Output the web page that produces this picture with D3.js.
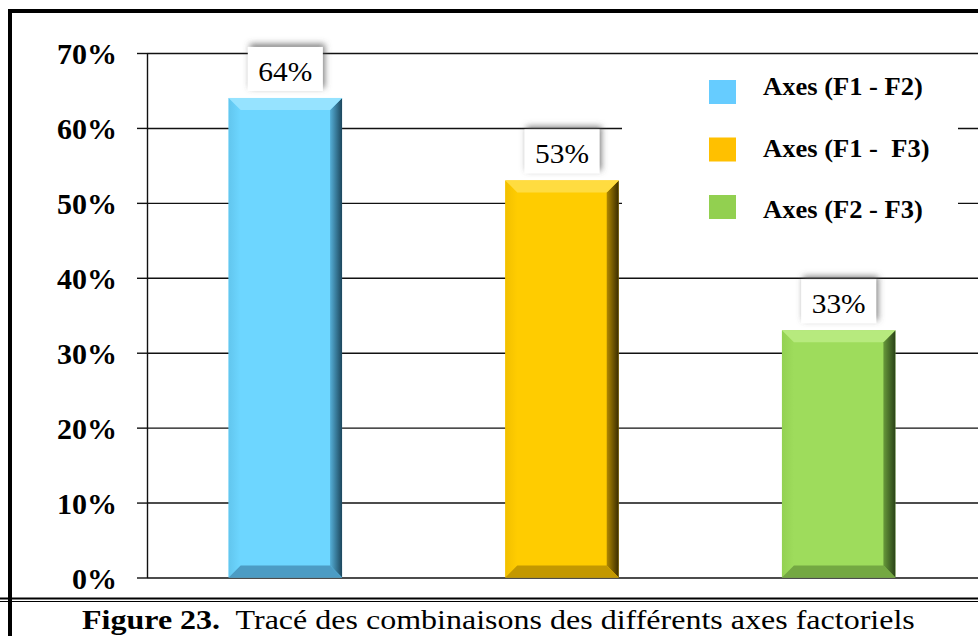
<!DOCTYPE html>
<html>
<head>
<meta charset="utf-8">
<script src="https://d3js.org/d3.v7.min.js"></script>
<style>
  html, body { margin: 0; padding: 0; background: #fff; }
  svg { display: block; font-family: "Liberation Serif", "Times New Roman", serif; }
</style>
</head>
<body>
<svg id="chart" width="978" height="636"></svg>
<script>
// data
const categories = ["Axes (F1 - F2)", "Axes (F1 -  F3)", "Axes (F2 - F3)"];
const values = [0.64, 0.53, 0.33];
const tickValues = [0, 0.1, 0.2, 0.3, 0.4, 0.5, 0.6, 0.7];
const legendColors = ["#66CCFF", "#FFC000", "#92D050"];

// bevel shades per bar: main, top, left, right (light->dark), bottom
const shades = [
  { main: "#6DD6FF", top: "#96E3FF", left: "#62C6EE", r1: "#55AFD8", r2: "#1C465C", bottom: "#4C9CC4" },
  { main: "#FFCC00", top: "#FFDC40", left: "#F2C000", r1: "#B08800", r2: "#3A2C00", bottom: "#C39800" },
  { main: "#9EDC5C", top: "#B7EA7E", left: "#93D152", r1: "#67993A", r2: "#2A4218", bottom: "#74A842" }
];

const svg = d3.select("#chart");
const W = 978;
const plotLeft = 147, plotRight = 977, plotTop = 53, plotBottom = 577.5;

const x = d3.scaleBand().domain(categories).range([plotLeft, plotRight])
  .paddingInner(0.59).paddingOuter(0.295);
const y = d3.scaleLinear().domain([0, 0.7]).range([plotBottom, plotTop]);

const defs = svg.append("defs");
const sh = defs.append("filter").attr("id", "lblShadow")
  .attr("x", "-30%").attr("y", "-40%").attr("width", "160%").attr("height", "180%");
sh.append("feDropShadow").attr("dx", 2).attr("dy", -3).attr("stdDeviation", 3)
  .attr("flood-color", "#555").attr("flood-opacity", 0.75);

shades.forEach((s, i) => {
  const g = defs.append("linearGradient").attr("id", "rg" + i)
    .attr("x1", 0).attr("x2", 1).attr("y1", 0).attr("y2", 0);
  g.append("stop").attr("offset", "0%").attr("stop-color", s.r1);
  g.append("stop").attr("offset", "100%").attr("stop-color", s.r2);
  const l = defs.append("linearGradient").attr("id", "lg" + i)
    .attr("x1", 0).attr("x2", 1).attr("y1", 0).attr("y2", 0);
  l.append("stop").attr("offset", "0%").attr("stop-color", s.left);
  l.append("stop").attr("offset", "100%").attr("stop-color", s.main);
});

// stretch a text horizontally to the width seen in the reference
function fitWidth(sel, w) {
  sel.each(function () {
    const t = d3.select(this);
    const len = this.getComputedTextLength();
    const base = t.attr("transform") || "";
    t.attr("transform", `${base} scale(${w / len},1)`);
  });
}

// outer frame (left + top thick borders)
svg.append("line").attr("x1", 10).attr("x2", 10).attr("y1", 9).attr("y2", 636)
  .attr("stroke", "#000").attr("stroke-width", 4);
svg.append("line").attr("x1", 8).attr("x2", W).attr("y1", 11).attr("y2", 11)
  .attr("stroke", "#000").attr("stroke-width", 4);

// gridlines
svg.append("g").attr("transform", `translate(${plotLeft},0)`)
  .call(d3.axisRight(y).tickValues(tickValues).tickSize(plotRight - plotLeft + 1).tickFormat(""))
  .call(g => g.select(".domain").remove())
  .call(g => g.selectAll("line").attr("stroke", "#111").attr("stroke-width", 1.4));

// y axis with labels
svg.append("g").attr("transform", `translate(${plotLeft},0)`)
  .call(d3.axisLeft(y).tickValues(tickValues).tickSize(10).tickSizeOuter(0).tickPadding(20)
    .tickFormat(d3.format(".0%")))
  .call(g => g.select(".domain").attr("stroke", "#111").attr("stroke-width", 1.4))
  .call(g => g.selectAll("line").attr("stroke", "#111").attr("stroke-width", 1.4))
  .call(g => g.selectAll("text").attr("fill", "#000")
    .attr("font-family", "'Liberation Serif', 'Times New Roman', serif")
    .attr("font-size", 30).attr("font-weight", "bold").attr("dy", "0.36em"));

// legend background hides gridlines behind it
svg.append("rect").attr("x", 622).attr("y", 62).attr("width", 336).attr("height", 186)
  .attr("fill", "#fff");

// bars with bevel
const b = 12;
const bars = svg.append("g").selectAll("g").data(values).join("g");
bars.each(function (v, i) {
  const g = d3.select(this);
  const x0 = x(categories[i]), x1 = x0 + x.bandwidth();
  const y0 = y(v), y1 = y(0);
  const s = shades[i];
  g.append("rect").attr("x", x0).attr("y", y0).attr("width", x1 - x0).attr("height", y1 - y0)
    .attr("fill", s.main);
  const poly = (pts, fill) => g.append("polygon")
    .attr("points", pts.map(p => p.join(",")).join(" ")).attr("fill", fill);
  poly([[x0, y0], [x0 + b, y0 + b], [x0 + b, y1 - b], [x0, y1]], `url(#lg${i})`);
  poly([[x1, y0], [x1 - b, y0 + b], [x1 - b, y1 - b], [x1, y1]], `url(#rg${i})`);
  poly([[x0, y1], [x1, y1], [x1 - b, y1 - b], [x0 + b, y1 - b]], s.bottom);
  poly([[x0, y0], [x1, y0], [x1 - b, y0 + b], [x0 + b, y0 + b]], s.top);
});

// value labels in white boxes
const lbl = svg.append("g").selectAll("g").data(values).join("g")
  .attr("transform", (d, i) => `translate(${x(categories[i]) + x.bandwidth() / 2},${y(d) - 7})`);
lbl.append("rect").attr("x", -37.5).attr("y", -44).attr("width", 75).attr("height", 44)
  .attr("fill", "#fff").attr("filter", "url(#lblShadow)");
lbl.append("text").attr("text-anchor", "middle").attr("y", -10)
  .attr("font-size", 28).attr("fill", "#000")
  .text(d => d3.format(".0%")(d))
  .call(fitWidth, 54);

// legend
const leg = svg.append("g").selectAll("g").data(categories).join("g");
leg.append("rect").attr("x", 709).attr("y", (d, i) => 80 + i * 57.5)
  .attr("width", 27).attr("height", 24)
  .attr("fill", (d, i) => legendColors[i]);
const legText = leg.append("text")
  .attr("transform", (d, i) => `translate(763,${95 + i * 61.5})`)
  .attr("font-size", 25).attr("font-weight", "bold").attr("fill", "#000")
  .style("white-space", "pre")
  .text(d => d);
// first entry is 160px wide in the reference; keep the same stretch for all
const stretch = 160 / legText.node().getComputedTextLength();
legText.attr("transform", function () {
  return d3.select(this).attr("transform") + ` scale(${stretch},1)`;
});

// separator double line and caption
svg.append("line").attr("x1", 0).attr("x2", W).attr("y1", 598.5).attr("y2", 598.5)
  .attr("stroke", "#000").attr("stroke-width", 2);
svg.append("line").attr("x1", 0).attr("x2", W).attr("y1", 601.5).attr("y2", 601.5)
  .attr("stroke", "#000").attr("stroke-width", 1);
const cap = svg.append("text").attr("transform", "translate(82,629)")
  .attr("font-size", 27).attr("fill", "#000").style("white-space", "pre");
cap.append("tspan").attr("font-weight", "bold").text("Figure 23.");
cap.append("tspan").text("  Tracé des combinaisons des différents axes factoriels");
cap.call(fitWidth, 833);
</script>
</body>
</html>
